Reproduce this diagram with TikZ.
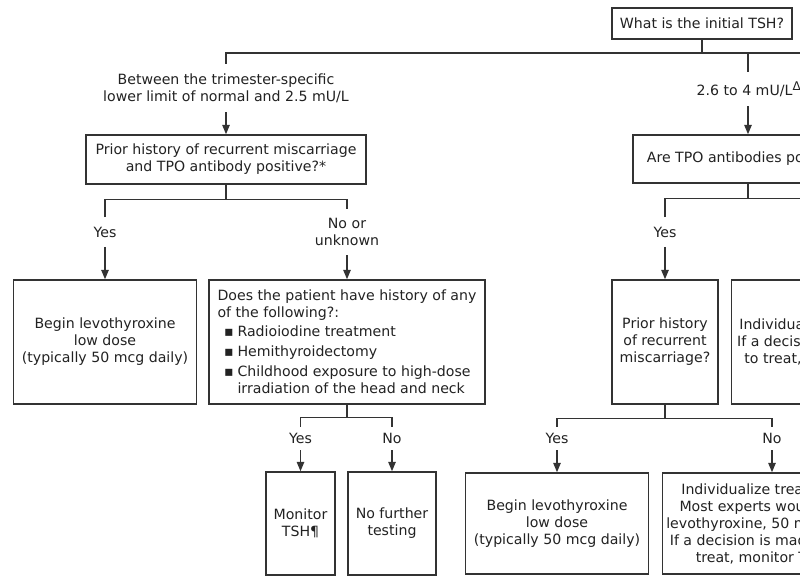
\documentclass[tikz,border=0pt]{standalone}
\usepackage{fontspec}
\setmainfont{DejaVu Sans}
\usetikzlibrary{arrows.meta,positioning}
\definecolor{ink}{HTML}{333333}
\definecolor{type}{HTML}{222222}
\newcommand{\listmark}{\hspace*{5pt}\makebox[10pt][l]{▪}}
\tikzset{
  box/.style={
    draw=ink,
    line width=1.1pt,
    text=type,
    align=center,
    inner sep=0pt,
    font=\fontsize{10.6}{12.75}\selectfont
  },
  sz/.style 2 args={
    minimum width=#1*0.75pt,
    minimum height=#2*0.75pt
  },
  tag/.style={
    text=type,
    align=center,
    inner xsep=0pt,
    inner ysep=7pt,
    font=\fontsize{10.6}{12.75}\selectfont
  },
  link/.style={
    draw=ink,
    line width=1.1pt
  },
  arrow/.style={
    link,
    -{Triangle[length=7pt,width=5.5pt]}
  }
}

\begin{document}
\begin{tikzpicture}[x=0.75pt,y=-0.75pt]
  \useasboundingbox (0,0) rectangle (800,583);
  \fill[white] (0,0) rectangle (800,583);
  \clip (0,0) rectangle (800,583);

  % --- Initial question ---
  \node[box, sz={180}{31}] (tsh) at (702,23.5) {What is the initial TSH?};
  \coordinate (top) at (800,53);

  % --- Left branch: low TSH ---
  \node[tag] (lowtag) at (226,88) {Between the trimester-specific\\lower limit of normal and 2.5 mU/L};
  \node[box, sz={280}{49}] (prior) at (226,159.5) {Prior history of recurrent miscarriage\\and TPO antibody positive?*};
  \node[tag] (yesA) at (105,232) {Yes};
  \node[tag] (noA) at (347,232) {No or\\unknown};
  \node[box, sz={183}{124}] (beginA) at (105,342) {Begin levothyroxine\\low dose\\(typically 50 mcg daily)};
  \node[box, sz={276}{124}, align=left] (hist) at (347,342) {Does the patient have history of any\\of the following?:\\[1.5pt]
    \listmark Radioiodine treatment\\[2.25pt]
    \listmark Hemithyroidectomy\\[2.25pt]
    \listmark Childhood exposure to high-dose\\
    \hspace*{15pt}irradiation of the head and neck};
  \node[tag, inner ysep=4.5pt] (yesB) at (300.5,438.5) {Yes};
  \node[tag, inner ysep=4.5pt] (noB) at (392,438.5) {No};
  \node[box, sz={69}{103}] (monitor) at (300.5,523.5) {Monitor\\TSH¶};
  \node[box, sz={88}{103}] (nofurther) at (392,523.5) {No further\\testing};

  % --- Right branch: 2.6 to 4 mU/L ---
  \node[tag] (midtag) at (749,89) {2.6 to 4 mU/L\textsuperscript{\fontsize{9}{10}\selectfont Δ}};
  \node[box, sz={230}{48}] (tpo) at (748,159) {Are TPO antibodies positive?};
  \node[tag] (yesC) at (665,232) {Yes};
  \node[box, sz={106}{124}] (priorB) at (665,342) {Prior history\\of recurrent\\miscarriage?};
  \node[box, sz={184}{124}, anchor=west] (indivA) at (731,342) {Individualize treatment.\\If a decision is made not\\to treat, monitor TSH¶};
  \node[tag, inner ysep=4.5pt] (yesD) at (557,438.5) {Yes};
  \node[tag, inner ysep=4.5pt] (noD) at (772,438.5) {No};
  \node[box, sz={183}{101}] (beginB) at (557,523.5) {Begin levothyroxine\\low dose\\(typically 50 mcg daily)};
  \node[box, sz={206}{101}, anchor=west] (indivB) at (662,523.5) {Individualize treatment.\\Most experts would give\\levothyroxine, 50 mcg daily.\\If a decision is made not to\\treat, monitor TSH¶};

  % --- Connectors ---
  \draw[link] (tsh.south) -- (tsh.south |- top);
  \draw[link] (lowtag.north) |- (top);
  \draw[link] (tpo.north |- midtag.north) -- (tpo.north |- top);
  \draw[arrow] (lowtag.south) -- (prior.north);
  \draw[arrow] (tpo.north |- midtag.south) -- (tpo.north);

  \draw[link] (prior.south) -- ++(0,15) coordinate (forkA);
  \draw[link] (yesA.north) |- (forkA) -| (noA.north);
  \draw[arrow] (yesA.south) -- (beginA.north);
  \draw[arrow] (noA.south) -- (hist.north);

  \draw[link] (hist.south) -- ++(0,13) coordinate (forkB);
  \draw[link] (yesB.north) |- (forkB) -| (noB.north);
  \draw[arrow] (yesB.south) -- (monitor.north);
  \draw[arrow] (noB.south) -- (nofurther.north);

  \draw[link] (tpo.south) -- ++(0,15) coordinate (forkC);
  \draw[link] (yesC.north) |- (forkC) -- (forkC -| top);
  \draw[arrow] (yesC.south) -- (priorB.north);

  \draw[link] (priorB.south) -- ++(0,14) coordinate (forkD);
  \draw[link] (yesD.north) |- (forkD) -| (noD.north);
  \draw[arrow] (yesD.south) -- (beginB.north);
  \draw[arrow] (noD.south) -- (indivB.north -| noD.south);

\end{tikzpicture}
\end{document}
